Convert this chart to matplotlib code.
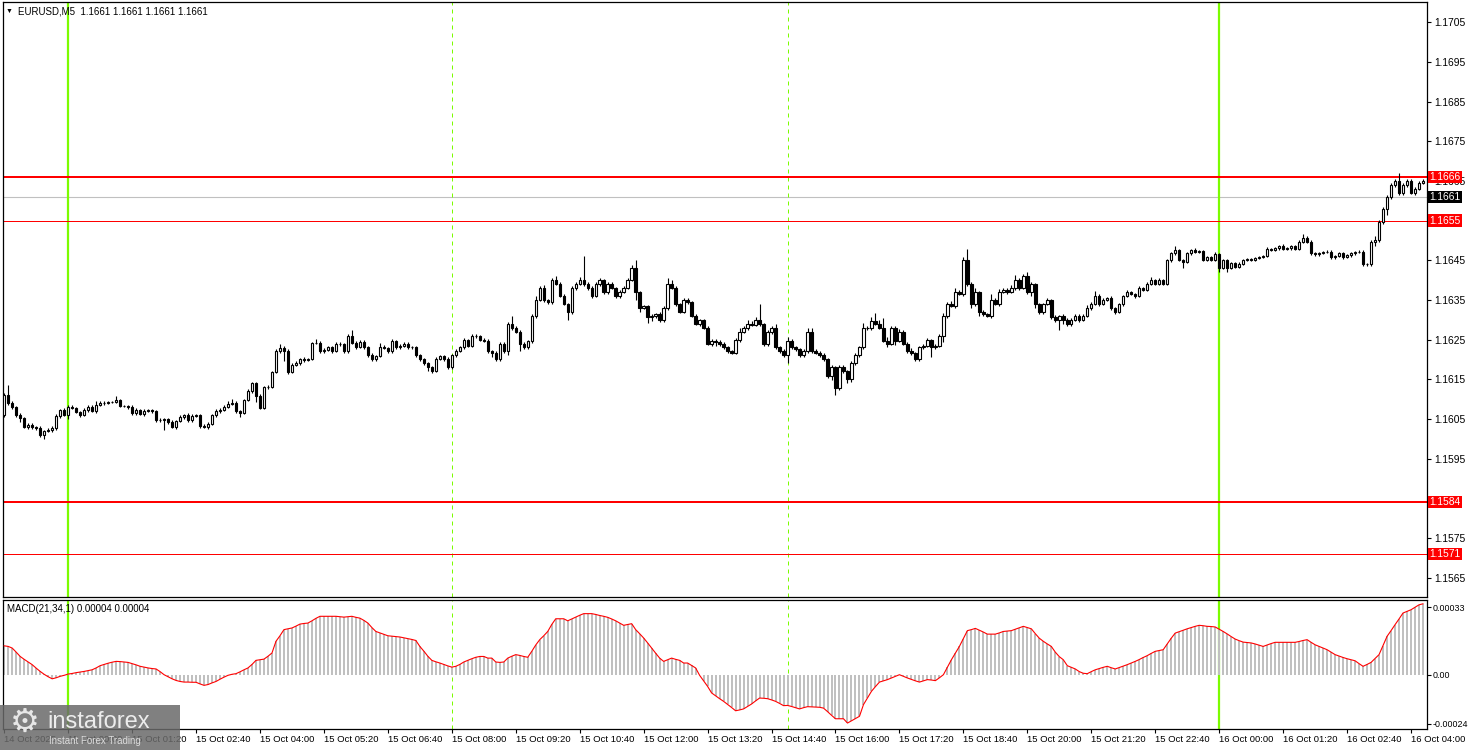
import numpy as np
import matplotlib
matplotlib.use('Agg')
import matplotlib.pyplot as plt
from matplotlib.patches import Rectangle
from matplotlib.transforms import blended_transform_factory

W, H = 1468, 750

# candle index 0 is 15 Oct 00:00 (M5 bars), first visible bar is index -16
first_index = -16
base_price = 1.1600
first_open = 6.0

# closes in pips above 1.1600, rows of 10 bars
closes = [
    11.0, 8.9, 7.9, 6.0, 5.2, 2.9, 3.4, 3.0, 2.6, 1.0,
    2.0, 2.2, 2.8, 5.7, 7.2, 6.0, 8.1, 7.8, 6.8, 6.0,
    7.2, 8.1, 7.0, 8.5, 8.9, 9.1, 9.2, 9.3, 9.8, 8.3,
    8.2, 8.1, 6.4, 7.2, 6.2, 7.0, 7.2, 7.0, 4.7, 4.7,
    4.9, 4.1, 3.0, 4.5, 5.5, 6.0, 4.6, 5.8, 6.0, 3.2,
    3.0, 3.8, 6.0, 7.0, 7.2, 8.1, 8.8, 9.0, 7.0, 6.5,
    9.8, 12.0, 14.0, 10.8, 7.8, 13.0, 13.1, 16.9, 22.0, 22.8,
    22.0, 16.9, 18.7, 19.0, 20.1, 19.9, 20.1, 24.1, 24.2, 22.0,
    22.3, 23.0, 22.2, 24.0, 23.8, 22.0, 25.9, 24.1, 23.2, 24.5,
    23.0, 21.0, 20.0, 20.8, 23.2, 22.8, 22.0, 24.7, 23.0, 23.5,
    24.0, 23.0, 23.0, 21.0, 20.1, 19.0, 18.0, 17.0, 20.1, 20.8,
    20.0, 18.0, 21.0, 22.2, 23.0, 24.8, 23.5, 25.8, 25.9, 25.0,
    24.6, 22.0, 21.5, 20.0, 24.0, 22.0, 28.9, 27.8, 27.0, 24.0,
    23.0, 24.7, 31.0, 35.0, 38.0, 35.0, 34.5, 40.0, 39.0, 36.0,
    34.0, 31.9, 38.0, 39.0, 40.0, 39.0, 38.0, 36.0, 39.0, 40.0,
    37.0, 39.0, 38.0, 36.0, 37.0, 38.0, 40.0, 43.0, 37.0, 32.9,
    33.5, 30.8, 30.9, 31.5, 30.0, 32.9, 39.0, 38.0, 34.0, 32.0,
    35.0, 34.5, 31.0, 29.0, 30.0, 28.0, 24.0, 24.7, 24.5, 24.0,
    23.0, 22.0, 21.7, 24.9, 27.0, 27.8, 29.0, 28.6, 29.9, 28.9,
    24.0, 26.8, 27.8, 23.0, 22.0, 21.0, 24.7, 23.0, 22.5, 21.0,
    22.0, 26.8, 22.0, 21.7, 21.0, 20.0, 15.9, 18.0, 12.9, 18.0,
    17.0, 15.0, 19.0, 21.0, 23.0, 27.8, 28.0, 29.8, 29.0, 28.0,
    24.7, 24.0, 27.8, 24.7, 26.8, 24.0, 22.0, 21.5, 20.0, 23.0,
    23.5, 24.9, 23.0, 23.5, 25.8, 31.0, 34.0, 33.5, 37.0, 36.5,
    45.1, 39.0, 34.0, 37.0, 31.9, 31.5, 31.0, 35.0, 34.0, 37.0,
    37.5, 37.0, 38.0, 40.0, 38.0, 41.0, 37.0, 39.0, 34.0, 31.9,
    34.0, 35.0, 30.8, 30.0, 31.0, 30.0, 29.0, 29.9, 31.0, 30.0,
    31.0, 32.9, 34.0, 36.0, 34.0, 35.0, 35.5, 33.0, 32.0, 34.0,
    36.0, 37.0, 36.5, 36.0, 38.0, 37.5, 39.0, 40.0, 39.0, 40.0,
    39.0, 45.1, 46.7, 47.5, 45.1, 44.5, 46.7, 47.6, 47.0, 47.3,
    45.1, 45.7, 45.1, 46.5, 43.0, 45.0, 43.0, 44.2, 43.4, 44.0,
    45.1, 45.3, 45.1, 45.6, 45.8, 46.0, 47.8, 47.6, 48.0, 48.6,
    47.8, 48.0, 48.6, 47.8, 49.7, 50.5, 49.7, 46.7, 46.5, 46.9,
    47.0, 47.2, 45.7, 46.0, 46.7, 45.9, 46.2, 46.7, 47.0, 47.2,
    44.1, 44.0, 49.7, 50.2, 54.7, 57.8, 60.9, 64.0, 65.0, 61.9,
    64.0, 65.0, 61.9, 62.9, 64.5, 65.0,
]

# shadow lengths in pips above / below the body
upper_wick = [
    0.5, 2.5, 0.5, 0.3, 0.5, 0.3, 0.5, 0.5, 0.3, 0.5,
    0.3, 0.5, 0.3, 0.5, 0.3, 0.5, 0.3, 0.5, 0.3, 0.3,
    0.5, 0.3, 0.5, 1.0, 0.5, 0.3, 0.3, 0.3, 1.0, 0.3,
    0.3, 0.3, 0.3, 0.5, 0.3, 0.5, 0.3, 0.3, 0.3, 0.5,
    0.3, 0.3, 0.5, 0.3, 0.5, 0.3, 0.5, 0.5, 0.3, 0.3,
    0.5, 0.5, 0.3, 0.5, 0.5, 0.3, 0.8, 1.0, 0.5, 0.3,
    0.3, 0.5, 0.3, 0.3, 0.5, 0.3, 0.5, 0.3, 0.5, 1.0,
    0.5, 0.5, 0.5, 0.5, 0.3, 0.5, 0.3, 0.3, 1.0, 0.5,
    0.5, 0.3, 0.5, 0.3, 0.5, 0.3, 0.5, 1.5, 0.5, 0.3,
    0.5, 0.3, 0.5, 0.3, 1.0, 0.5, 0.3, 0.5, 0.3, 0.5,
    0.3, 0.5, 0.3, 0.5, 0.3, 0.3, 0.3, 0.3, 0.5, 0.3,
    0.3, 0.5, 0.3, 0.5, 0.3, 0.5, 0.3, 0.5, 0.5, 0.3,
    0.3, 0.5, 0.3, 0.5, 0.3, 0.5, 0.5, 2.0, 0.5, 0.5,
    0.3, 0.3, 0.5, 1.0, 0.5, 0.8, 0.3, 0.5, 1.0, 0.5,
    0.5, 0.3, 0.5, 0.5, 0.8, 6.0, 0.5, 0.5, 0.5, 0.5,
    0.3, 0.5, 0.5, 0.3, 0.5, 0.5, 0.5, 0.8, 2.0, 0.3,
    0.3, 0.3, 0.5, 0.3, 0.5, 0.5, 1.5, 1.0, 0.5, 0.3,
    0.5, 0.5, 0.3, 0.5, 0.3, 0.3, 0.5, 0.5, 0.5, 0.5,
    0.3, 0.3, 0.3, 0.5, 1.0, 0.5, 1.0, 0.8, 0.8, 4.0,
    0.3, 0.5, 0.5, 1.0, 0.3, 0.5, 1.0, 0.5, 0.5, 0.3,
    0.5, 1.0, 1.0, 0.5, 0.5, 0.5, 0.3, 0.5, 0.3, 0.5,
    0.5, 0.3, 0.5, 0.5, 0.5, 1.5, 0.5, 0.8, 2.0, 1.0,
    2.5, 1.0, 0.5, 0.5, 0.8, 0.5, 0.3, 0.8, 0.3, 0.5,
    0.5, 0.5, 0.3, 0.5, 0.5, 0.8, 0.5, 0.8, 1.0, 0.5,
    0.8, 2.8, 0.5, 1.0, 0.3, 0.5, 0.3, 1.5, 0.5, 0.8,
    0.5, 0.5, 0.8, 1.2, 0.5, 0.5, 1.0, 0.5, 0.3, 0.3,
    0.3, 0.5, 0.3, 0.3, 0.3, 0.5, 0.5, 0.5, 0.5, 0.5,
    0.5, 0.8, 0.5, 1.2, 0.5, 0.5, 0.3, 0.5, 0.3, 0.3,
    0.3, 0.5, 0.3, 0.3, 0.5, 0.3, 0.5, 0.8, 0.3, 0.5,
    0.3, 0.3, 0.5, 1.0, 0.3, 0.3, 0.5, 0.3, 0.5, 0.3,
    0.3, 0.3, 0.3, 0.5, 0.3, 0.3, 0.3, 0.3, 0.3, 0.5,
    0.3, 0.3, 0.3, 0.3, 0.3, 0.3, 0.5, 0.3, 0.3, 0.3,
    0.5, 0.3, 0.3, 0.3, 0.5, 1.2, 0.5, 0.3, 0.3, 0.3,
    0.3, 0.3, 0.3, 0.3, 0.3, 0.3, 0.3, 0.3, 0.3, 0.3,
    0.3, 0.3, 0.5, 0.8, 0.5, 0.5, 0.5, 0.5, 0.5, 2.0,
    0.5, 0.5, 0.5, 0.5, 0.5, 0.5,
]

lower_wick = [
    0.5, 0.5, 0.3, 0.5, 1.0, 0.3, 0.5, 0.5, 0.3, 0.5,
    1.0, 0.3, 0.5, 0.5, 0.5, 0.3, 1.0, 0.3, 0.3, 0.5,
    0.3, 0.5, 0.3, 0.5, 0.3, 0.3, 0.3, 0.3, 0.3, 0.3,
    0.3, 0.5, 0.3, 0.3, 0.3, 0.5, 0.3, 0.5, 0.5, 0.5,
    2.5, 0.3, 0.3, 0.5, 0.3, 0.5, 0.3, 0.5, 0.3, 0.5,
    0.3, 0.5, 0.3, 0.5, 0.5, 0.3, 0.3, 0.3, 0.5, 1.0,
    0.3, 0.3, 0.5, 1.5, 0.3, 0.3, 0.5, 0.3, 0.3, 0.5,
    2.5, 0.5, 0.3, 0.3, 0.3, 0.5, 0.3, 0.3, 0.3, 0.5,
    0.3, 0.3, 0.5, 0.3, 0.3, 0.5, 0.3, 0.3, 0.5, 0.3,
    0.3, 0.5, 0.3, 0.5, 0.3, 0.3, 0.5, 0.3, 0.3, 0.3,
    0.3, 0.3, 0.3, 0.5, 0.5, 0.5, 1.0, 0.5, 0.3, 0.3,
    0.3, 0.3, 0.3, 0.3, 0.3, 0.3, 0.5, 0.3, 0.3, 0.3,
    0.3, 0.5, 1.0, 0.5, 0.5, 0.5, 1.0, 0.5, 0.3, 2.0,
    0.5, 0.5, 0.5, 0.5, 0.3, 0.5, 0.5, 0.5, 0.3, 0.3,
    0.3, 2.0, 0.5, 0.5, 0.3, 0.5, 0.5, 0.5, 0.3, 0.5,
    0.5, 0.5, 0.3, 0.5, 0.5, 0.3, 0.3, 0.3, 2.0, 1.0,
    0.3, 1.5, 1.0, 0.5, 0.5, 0.5, 0.5, 0.3, 0.5, 0.3,
    0.3, 0.5, 0.3, 0.3, 0.5, 0.3, 0.3, 0.5, 1.0, 0.5,
    0.5, 0.3, 0.3, 0.3, 0.5, 0.3, 0.3, 0.3, 0.3, 0.5,
    0.5, 0.5, 0.3, 0.5, 0.3, 0.3, 2.0, 0.5, 0.3, 0.5,
    0.3, 0.5, 0.3, 0.3, 0.3, 0.5, 0.5, 1.0, 2.0, 0.5,
    0.5, 1.0, 0.8, 0.3, 0.3, 0.3, 0.5, 0.5, 0.3, 0.3,
    0.3, 1.0, 0.3, 1.0, 0.3, 0.3, 0.5, 0.5, 0.3, 0.5,
    0.5, 0.5, 2.5, 0.3, 0.3, 1.5, 0.5, 0.3, 0.5, 0.3,
    0.5, 0.5, 1.0, 0.5, 1.0, 0.5, 0.3, 0.5, 0.3, 0.5,
    0.3, 0.5, 0.3, 0.5, 0.5, 0.3, 0.5, 1.0, 1.0, 0.5,
    0.5, 0.3, 0.5, 0.5, 2.5, 1.0, 0.5, 0.5, 0.3, 0.5,
    0.3, 0.3, 0.5, 0.3, 0.5, 0.3, 0.3, 0.5, 0.5, 0.3,
    0.5, 0.3, 0.3, 0.5, 0.3, 0.3, 0.3, 0.3, 0.3, 0.3,
    0.3, 0.3, 0.5, 0.3, 0.3, 1.5, 0.3, 0.3, 0.3, 0.3,
    0.3, 0.3, 0.3, 0.3, 1.0, 0.3, 1.0, 0.3, 0.3, 0.3,
    0.3, 0.3, 0.3, 0.3, 0.3, 0.3, 0.3, 0.3, 0.3, 0.3,
    0.3, 0.3, 0.3, 0.3, 0.3, 0.3, 0.3, 0.5, 0.5, 0.5,
    0.3, 0.3, 0.3, 0.3, 0.3, 0.5, 0.3, 0.3, 0.3, 0.3,
    0.5, 0.5, 0.5, 1.0, 0.5, 0.5, 1.5, 0.5, 0.5, 0.5,
    0.5, 0.5, 0.3, 0.5, 0.3, 0.3,
]

# MACD(21,34,1) histogram, units of 0.00001
macd = [
    14.1, 13.8, 13.0, 11.0, 8.9, 7.5, 6.2, 4.9, 3.2, 1.6,
    0.2, -1.0, -2.0, -1.5, -0.8, -0.3, 0.3, 0.6, 1.0, 1.3,
    1.6, 2.0, 2.4, 3.3, 4.4, 5.0, 5.6, 6.1, 6.5, 6.4,
    6.2, 6.0, 5.4, 4.8, 4.1, 3.7, 3.3, 3.0, 2.8, 1.5,
    0.0, -1.0, -2.0, -2.8, -3.3, -3.6, -3.6, -3.7, -3.7, -4.5,
    -5.2, -4.8, -4.0, -3.3, -2.2, -1.2, -0.3, 0.2, 0.5, 1.4,
    2.4, 3.3, 5.0, 7.0, 7.3, 7.6, 9.0, 10.6, 16.3, 19.0,
    22.0, 22.4, 22.8, 23.7, 24.7, 25.0, 25.2, 26.3, 27.5, 28.5,
    28.5, 28.5, 28.5, 28.5, 28.3, 28.1, 28.3, 28.5, 28.0, 27.6,
    26.5, 25.2, 23.0, 21.1, 20.4, 19.7, 19.0, 18.8, 18.6, 18.4,
    18.0, 17.6, 17.2, 16.7, 13.8, 11.5, 9.0, 7.0, 6.3, 5.7,
    5.0, 4.3, 3.7, 4.1, 5.0, 6.2, 7.0, 7.8, 8.5, 8.9,
    8.9, 8.1, 8.1, 6.2, 6.0, 6.2, 8.1, 9.0, 9.8, 9.4,
    8.9, 8.5, 11.4, 14.5, 17.1, 19.0, 21.1, 24.5, 27.3, 27.3,
    27.3, 26.3, 27.2, 28.1, 29.0, 29.8, 29.8, 29.8, 29.4, 28.9,
    28.5, 28.0, 27.2, 26.3, 25.2, 24.1, 24.5, 24.9, 22.0, 20.0,
    17.9, 15.5, 13.0, 10.5, 8.1, 6.5, 7.3, 8.1, 7.5, 7.0,
    5.7, 5.7, 4.5, 3.3, -0.3, -3.0, -5.7, -8.9, -10.3, -11.7,
    -13.0, -14.5, -16.0, -17.6, -17.2, -16.7, -15.5, -14.3, -12.8, -11.4,
    -11.5, -11.7, -12.3, -13.0, -14.0, -15.1, -15.0, -15.5, -16.1, -16.7,
    -16.1, -15.6, -15.7, -15.8, -15.9, -16.3, -18.0, -19.8, -21.5, -21.5,
    -21.5, -23.6, -22.5, -21.4, -20.3, -14.6, -11.3, -8.1, -5.8, -3.6,
    -3.0, -2.4, -1.6, -0.8, 0.0, -0.8, -1.6, -2.3, -3.0, -3.6,
    -3.0, -2.4, -2.6, -2.9, -1.5, 0.0, 3.6, 7.3, 10.5, 13.8,
    17.6, 21.5, 22.0, 22.6, 21.7, 20.8, 19.8, 19.8, 19.8, 20.4,
    21.1, 21.3, 21.5, 22.2, 22.9, 23.6, 23.0, 22.4, 20.0, 17.8,
    16.3, 15.0, 13.8, 11.0, 8.8, 7.3, 4.4, 3.6, 2.8, 1.5,
    0.7, 0.5, 1.5, 2.4, 3.0, 3.6, 4.1, 3.4, 2.8, 3.5,
    4.2, 4.9, 5.7, 6.5, 7.4, 8.4, 9.3, 10.4, 11.4, 11.8,
    12.2, 15.0, 17.8, 20.3, 21.0, 21.7, 22.4, 23.0, 23.6, 24.1,
    23.9, 23.6, 23.5, 23.3, 22.2, 21.1, 19.9, 18.6, 17.4, 16.6,
    15.9, 15.7, 15.5, 15.0, 14.4, 13.8, 14.5, 15.2, 15.8, 15.8,
    15.8, 15.8, 15.8, 15.8, 16.2, 16.7, 17.1, 15.8, 14.6, 13.8,
    13.0, 12.2, 11.0, 9.8, 9.1, 8.4, 7.8, 7.3, 6.8, 5.4,
    4.1, 5.0, 6.0, 7.9, 9.8, 14.2, 18.7, 21.5, 24.4, 27.2,
    30.1, 30.9, 31.7, 32.9, 34.1, 34.6,
]

# horizontal levels drawn on the chart
levels = [1.1666, 1.1655, 1.1584, 1.1571]
level_widths = [2.0, 1.0, 2.0, 1.0]
bid_price = 1.1661

# vertical markers (bar index)
day_lines = [0, 288]
session_lines = [96, 180]

price_ticks = [1.1565, 1.1575, 1.1585, 1.1595, 1.1605, 1.1615, 1.1625, 1.1635,
               1.1645, 1.1655, 1.1665, 1.1675, 1.1685, 1.1695, 1.1705]
# these two sit fully under the level boxes on the terminal
hidden_ticks = [1.1585, 1.1655]
macd_ticks = [-0.00024, 0.0, 0.00033]
macd_tick_labels = ['-0.00024', '0.00', '0.00033']

time_labels = ['14 Oct 2025', '15 Oct 00:00', '15 Oct 01:20', '15 Oct 02:40', '15 Oct 04:00',
               '15 Oct 05:20', '15 Oct 06:40', '15 Oct 08:00', '15 Oct 09:20', '15 Oct 10:40',
               '15 Oct 12:00', '15 Oct 13:20', '15 Oct 14:40', '15 Oct 16:00', '15 Oct 17:20',
               '15 Oct 18:40', '15 Oct 20:00', '15 Oct 21:20', '15 Oct 22:40', '16 Oct 00:00',
               '16 Oct 01:20', '16 Oct 02:40', '16 Oct 04:00']
time_label_bars = [-16, 0, 16, 32, 48, 64, 80, 96, 112, 128, 144, 160, 176, 192, 208,
                   224, 240, 256, 272, 288, 304, 320, 336]

title = 'EURUSD,M5  1.1661 1.1661 1.1661 1.1661'
macd_title = 'MACD(21,34,1) 0.00004 0.00004'

GREEN = '#7CFC00'
FS = 7
PRICE_FS = 7.4
FAMILY = ['Liberation Sans', 'DejaVu Sans']


def px_box(left, top, right, bottom):
    return [left / W, 1 - bottom / H, (right - left) / W, (bottom - top) / H]


def main():
    plt.rcParams['font.family'] = FAMILY
    fig = plt.figure(figsize=(W / 100, H / 100), dpi=100)
    fig.patch.set_facecolor('white')

    ax = fig.add_axes(px_box(3, 2, 1427, 597))
    mx = fig.add_axes(px_box(3, 599.5, 1427, 729))

    idx = np.arange(first_index, first_index + len(closes))
    c = base_price + np.array(closes) / 1e4
    o = np.r_[base_price + first_open / 1e4, c[:-1]]
    hi = np.maximum(o, c) + np.array(upper_wick) / 1e4
    lo = np.minimum(o, c) - np.array(lower_wick) / 1e4

    # candles
    ax.vlines(idx, lo, hi, color='black', lw=0.8, zorder=3)
    up = c >= o
    ax.bar(idx[up], (c - o)[up], bottom=o[up], width=0.6, color='white',
           edgecolor='black', lw=0.8, zorder=4)
    ax.bar(idx[~up], (o - c)[~up], bottom=c[~up], width=0.6, color='black',
           edgecolor='black', lw=0.8, zorder=4)

    # levels
    for lv, lw in zip(levels, level_widths):
        ax.axhline(lv, color='red', lw=lw * 0.72, zorder=2)
    ax.axhline(bid_price, color='#c0c0c0', lw=0.8, zorder=1)

    # vertical markers on both panels
    for a in (ax, mx):
        for d in day_lines:
            a.axvline(d, color=GREEN, lw=1.6, zorder=1)
        for s in session_lines:
            a.axvline(s, color=GREEN, lw=0.72, ls=(0, (4, 4)), zorder=1)

    ax.set_xlim(-16.3, 340)
    ax.set_ylim(1.15601, 1.17101)
    ax.yaxis.tick_right()
    ax.set_yticks(price_ticks)
    ax.set_yticklabels(['' if t in hidden_ticks else '%.4f' % t for t in price_ticks])
    ax.tick_params(axis='y', direction='out', length=3, width=0.8, pad=2, labelsize=PRICE_FS)
    ax.set_xticks([])
    for sp in ax.spines.values():
        sp.set_color('black')
        sp.set_linewidth(0.9)

    # price labels on the right axis
    tr = blended_transform_factory(ax.transAxes, ax.transData)
    box_x = 1.0019
    for lv in levels:
        ax.text(box_x, lv, '%.4f' % lv, transform=tr, fontsize=PRICE_FS, color='white',
                ha='left', va='center', clip_on=False, zorder=10,
                bbox=dict(boxstyle='square,pad=0.12', fc='red', ec='none'))
    ax.text(box_x, bid_price, '%.4f' % bid_price, transform=tr, fontsize=PRICE_FS, color='white',
            ha='left', va='center', clip_on=False, zorder=10,
            bbox=dict(boxstyle='square,pad=0.12', fc='black', ec='none'))

    # MACD panel
    m = np.array(macd) / 1e5
    mx.bar(idx, m, width=0.5, color='#c0c0c0', lw=0, zorder=2)
    mx.plot(idx, m, color='red', lw=0.8, zorder=3)
    mx.set_xlim(-16.3, 340)
    mx.set_ylim(-0.000265, 0.000367)
    mx.yaxis.tick_right()
    mx.set_yticks(macd_ticks)
    mx.set_yticklabels(macd_tick_labels)
    mx.tick_params(axis='y', direction='out', length=3, width=0.8, pad=1, labelsize=6.4)
    mx.set_xticks(time_label_bars)
    mx.set_xticklabels(time_labels, ha='left')
    mx.tick_params(axis='x', direction='out', length=3, width=0.8, pad=1.5, labelsize=6.8)
    for sp in mx.spines.values():
        sp.set_color('black')
        sp.set_linewidth(0.9)

    # captions
    fig.text(6 / W, 1 - 11 / H, '\u25bc', fontsize=5, va='center', ha='left')
    fig.text(18 / W, 1 - 11 / H, title, fontsize=FS, va='center', ha='left')
    fig.text(7 / W, 1 - 609 / H, macd_title, fontsize=FS, va='center', ha='left')

    # watermark in the lower left corner
    fig.patches.append(Rectangle((0, 0), 180 / W, 45 / H, transform=fig.transFigure,
                                 fc='#6a6a6a', ec='none', alpha=0.85, zorder=20))
    fig.text(25 / W, 1 - 722 / H, '\u2699', fontsize=24, color='#e6e6e6',
             family=['DejaVu Sans'], ha='center', va='center', zorder=21)
    fig.text(47 / W, 1 - 722 / H, 'instaforex', fontsize=17, color='#ececec',
             ha='left', va='center', zorder=21)
    fig.text(49 / W, 1 - 741 / H, 'Instant Forex Trading', fontsize=7, color='#dcdcdc',
             ha='left', va='center', zorder=21)

    fig.savefig('out.png', dpi=100)


if __name__ == '__main__':
    main()
